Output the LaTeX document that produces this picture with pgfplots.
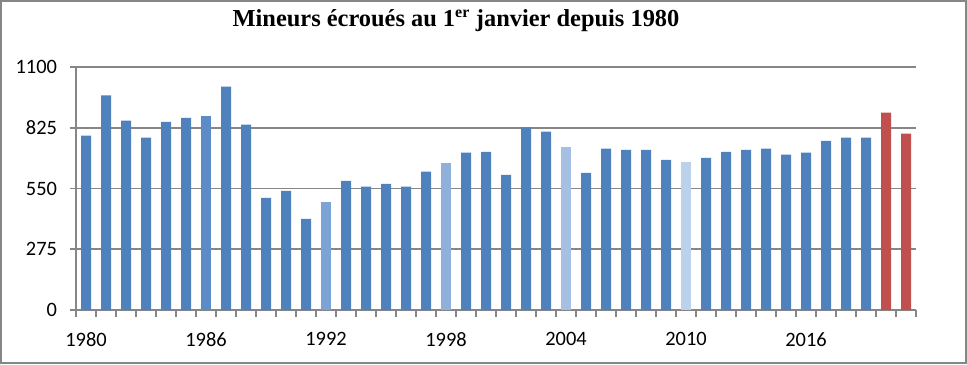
\documentclass[border=0pt]{standalone}
\usepackage{pgfplots}
\pgfplotsset{compat=1.18}
\usepackage{fontspec}
\setmainfont{Carlito}
\newfontfamily\titlefont{Liberation Serif}
\definecolor{cmain}{HTML}{4F81BD}
\definecolor{c86}{HTML}{5C8CC8}
\definecolor{c92}{HTML}{7BA3D6}
\definecolor{c98}{HTML}{8FB0DA}
\definecolor{c04}{HTML}{A5C0E2}
\definecolor{c10}{HTML}{BCD1EA}
\definecolor{cred}{HTML}{C0504D}
\definecolor{cgrid}{HTML}{868686}
\begin{document}
\begin{tikzpicture}[x=1bp,y=1bp]
\useasboundingbox (0,0) rectangle (967,364);
\draw[cgrid, line width=2.2bp] (1.1,1.1) rectangle (965.9,362.9);
\node[font=\titlefont\bfseries\fontsize{24.5}{28}\selectfont] at (456,343) {Mineurs écroués au 1\textsuperscript{\fontsize{16}{18}\selectfont er} janvier depuis 1980};
\begin{axis}[
  at={(76bp,54bp)}, anchor=south west,
  scale only axis, width=840bp, height=243bp,
  xmin=-0.5, xmax=41.5, ymin=0, ymax=1100,
  ybar, bar width=10bp, bar shift=0pt,
  axis x line*=bottom, axis y line*=left,
  axis line style={cgrid, line width=1.6bp, -},
  ytick={0,275,550,825,1100},
  ymajorgrids, grid style={cgrid, line width=1.6bp},
  xtick={-0.5,0.5,...,41.5},
  xticklabels={},
  extra x ticks={0,6,12,18,24,30,36},
  extra x tick labels={1980,1986,1992,1998,2004,2010,2016},
  extra x tick style={major tick length=0pt, xticklabel style={yshift=-19bp}},
  tick align=outside,
  major tick length=6.5bp,
  tick style={cgrid, line width=1.6bp},
  tick label style={font=\fontsize{20.5}{24}\selectfont, text=black},
  yticklabel style={xshift=-9bp},
  /pgf/number format/1000 sep={},
  /pgf/number format/assume math mode=true,
  clip=false,
]
\addplot[fill=cmain, draw=none] coordinates {
(0,789) (1,972) (2,857) (3,780) (4,852) (5,870) (7,1011) (8,839) (9,508) (10,539) (11,412)
(13,585) (14,558) (15,571) (16,558) (17,626) (19,712) (20,716) (21,612) (22,827) (23,807)
(25,621) (26,730) (27,725) (28,725) (29,680) (31,689) (32,716) (33,725) (34,730) (35,703)
(36,712) (37,766) (38,780) (39,780)};
\addplot[fill=c86, draw=none] coordinates {(6,879)};
\addplot[fill=c92, draw=none] coordinates {(12,490)};
\addplot[fill=c98, draw=none] coordinates {(18,666)};
\addplot[fill=c04, draw=none] coordinates {(24,739)};
\addplot[fill=c10, draw=none] coordinates {(30,671)};
\addplot[fill=cred, draw=none] coordinates {(40,893) (41,798)};
\end{axis}
\end{tikzpicture}
\end{document}
